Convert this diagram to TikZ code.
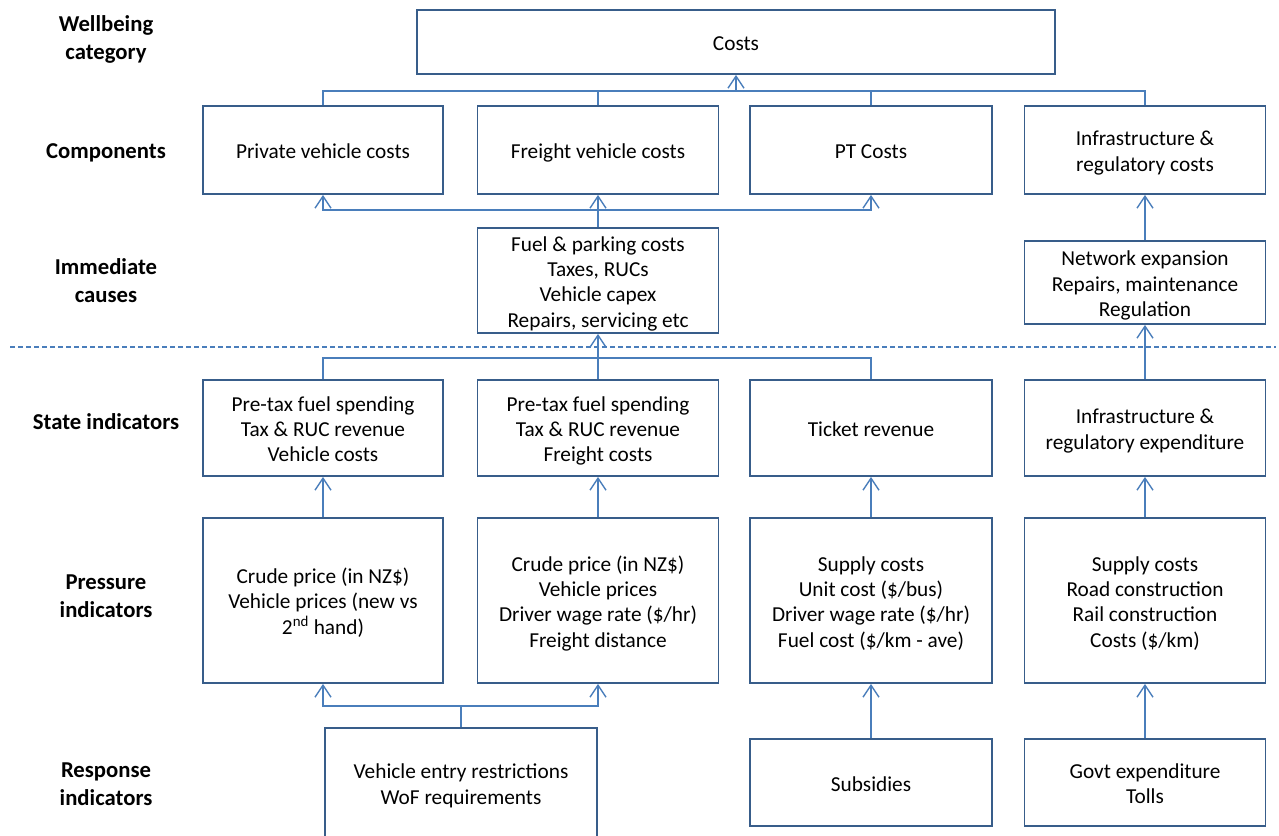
\documentclass[tikz,border=0pt]{standalone}
\usepackage{fontspec}
\setmainfont{Carlito}
\usetikzlibrary{arrows.meta}
\definecolor{boxline}{HTML}{385D8A}
\definecolor{linkline}{HTML}{4A7EBB}
% centred lines of box text, set a little below the geometric centre
\newcommand\boxtext[1]{\raisebox{-3.5pt}[\height][\depth]{\begin{tabular}{@{}c@{}}#1\end{tabular}}}
\newcommand\rowtext[1]{\begin{tabular}{@{}c@{}}#1\end{tabular}}
\begin{document}
\begin{tikzpicture}[x=1pt,y=-1pt,
  box/.style={draw=boxline, line width=1.8pt, inner sep=0pt,
    font=\fontsize{21.3}{25.3}\selectfont, text=black},
  rowlabel/.style={inner sep=0pt, font=\bfseries\fontsize{22.7}{28}\selectfont, text=black},
  link/.style={draw=linkline, line width=1.4pt},
  arr/.style={link, -{Straight Barb[length=12pt,width=16pt,line width=1.4pt]}},
]
\clip (0,0) rectangle (1279,835);
\fill[white] (0,0) rectangle (1279,835);

% row labels
\node[rowlabel] (lwell) at (106,39.4) {\rowtext{Wellbeing\\category}};
\node[rowlabel] (lcomp) at (106,152.4) {\rowtext{Components}};
\node[rowlabel] (limm) at (106,282.4) {\rowtext{Immediate\\causes}};
\node[rowlabel] (lstate) at (106,423.4) {\rowtext{State indicators}};
\node[rowlabel] (lpress) at (106,597.4) {\rowtext{Pressure\\indicators}};
\node[rowlabel] (lresp) at (106,785.4) {\rowtext{Response\\indicators}};

% wellbeing category
\node[box, minimum width=638pt, minimum height=64pt] (costs) at (736,42) {\boxtext{Costs}};

% components
\node[box, minimum width=240pt, minimum height=88pt] (priv) at (323,150) {\boxtext{Private vehicle costs}};
\node[box, minimum width=241pt, minimum height=88pt] (frgt) at (598,150) {\boxtext{Freight vehicle costs}};
\node[box, minimum width=242pt, minimum height=88pt] (pt) at (871,150) {\boxtext{PT Costs}};
\node[box, minimum width=241pt, minimum height=88pt] (infc) at (1145,150) {\boxtext{Infrastructure \&\\regulatory costs}};

% immediate causes
\node[box, minimum width=241pt, minimum height=105pt] (imm) at (598,280.5)
  {\boxtext{Fuel \& parking costs\\Taxes, RUCs\\Vehicle capex\\Repairs, servicing etc}};
\node[box, minimum width=241pt, minimum height=83pt] (immi) at (1145,282.5)
  {\boxtext{Network expansion\\Repairs, maintenance\\Regulation}};

% boundary between causes and indicators
\coordinate (dashL) at (10,347);
\coordinate (dashR) at (1276,347);
\draw[linkline, line width=1.2pt, dash pattern=on 5pt off 3pt] (dashL) -- (dashR);

% state indicators
\node[box, minimum width=240pt, minimum height=96pt] (s1) at (323,428)
  {\boxtext{Pre-tax fuel spending\\Tax \& RUC revenue\\Vehicle costs}};
\node[box, minimum width=241pt, minimum height=96pt] (s2) at (598,428)
  {\boxtext{Pre-tax fuel spending\\Tax \& RUC revenue\\Freight costs}};
\node[box, minimum width=242pt, minimum height=96pt] (s3) at (871,428) {\boxtext{Ticket revenue}};
\node[box, minimum width=241pt, minimum height=96pt] (s4) at (1145,428)
  {\boxtext{Infrastructure \&\\regulatory expenditure}};

% pressure indicators
\node[box, minimum width=240pt, minimum height=165pt] (p1) at (323,600.5)
  {\boxtext{Crude price (in NZ\$)\\Vehicle prices (new vs\\2\textsuperscript{nd} hand)}};
\node[box, minimum width=241pt, minimum height=165pt] (p2) at (598,600.5)
  {\boxtext{Crude price (in NZ\$)\\Vehicle prices\\Driver wage rate (\$/hr)\\Freight distance}};
\node[box, minimum width=242pt, minimum height=165pt] (p3) at (871,600.5)
  {\boxtext{Supply costs\\Unit cost (\$/bus)\\Driver wage rate (\$/hr)\\Fuel cost (\$/km - ave)}};
\node[box, minimum width=241pt, minimum height=165pt] (p4) at (1145,600.5)
  {\boxtext{Supply costs\\Road construction\\Rail construction\\Costs (\$/km)}};

% response indicators
\node[box, minimum width=272pt, minimum height=110pt] (r1) at (461,783)
  {\boxtext{Vehicle entry restrictions\\WoF requirements}};
\node[box, minimum width=242pt, minimum height=87pt] (r2) at (871,782.5) {\boxtext{Subsidies}};
\node[box, minimum width=241pt, minimum height=87pt] (r3) at (1145,782.5)
  {\boxtext{Govt expenditure\\Tolls}};

% components -> costs
\coordinate (topbus) at (736,91);
\draw[link] (priv.north) |- (topbus);
\draw[link] (frgt.north) |- (topbus);
\draw[link] (pt.north) |- (topbus);
\draw[link] (infc.north) |- (topbus);
\draw[arr] (topbus) -- (costs.south);

% immediate causes -> components
\coordinate (midbus) at (598,210);
\draw[link] (imm.north) -- (midbus);
\draw[arr] (midbus) -| (priv.south);
\draw[arr] (midbus) -| (pt.south);
\draw[arr] (midbus) -- (frgt.south);
\draw[arr] (immi.north) -- (infc.south);

% state indicators -> immediate causes
\coordinate (stbus) at (598,358);
\draw[link] (s1.north) |- (stbus);
\draw[link] (s3.north) |- (stbus);
\draw[link] (s2.north) -- (stbus);
\draw[arr] (stbus) -- (imm.south);
\draw[arr] (s4.north) -- (immi.south);

% pressure -> state
\draw[arr] (p1.north) -- (s1.south);
\draw[arr] (p2.north) -- (s2.south);
\draw[arr] (p3.north) -- (s3.south);
\draw[arr] (p4.north) -- (s4.south);

% response -> pressure
\coordinate (rbus) at (461,706);
\draw[link] (r1.north) -- (rbus);
\draw[arr] (rbus) -| (p1.south);
\draw[arr] (rbus) -| (p2.south);
\draw[arr] (r2.north) -- (p3.south);
\draw[arr] (r3.north) -- (p4.south);
\end{tikzpicture}
\end{document}
